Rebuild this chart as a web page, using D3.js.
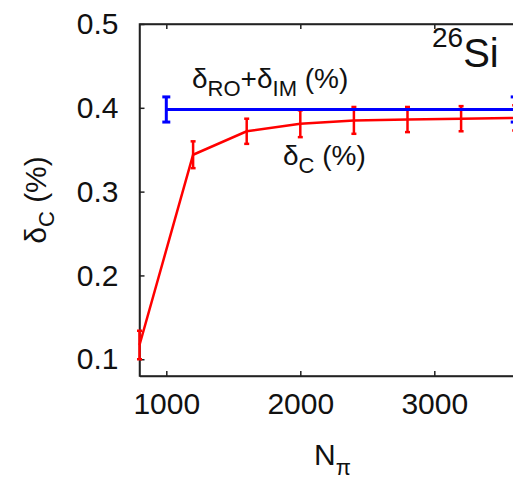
<!DOCTYPE html>
<html><head><meta charset="utf-8">
<script src="https://cdn.jsdelivr.net/npm/d3@7"></script>
<style>body{margin:0;background:#fff}svg{display:block}text{font-family:"Liberation Sans",Arial,sans-serif;fill:#111}</style>
</head><body>
<script>
const nPi = [800, 1200, 1600, 2000, 2400, 2800, 3200, 3600];
const deltaC = [0.117, 0.344, 0.372, 0.381, 0.385, 0.386, 0.387, 0.388];
const deltaCErr = [0.017, 0.016, 0.015, 0.016, 0.016, 0.015, 0.015, 0.015];
const roimX = [1000, 3600];
const roimY = [0.398, 0.398];
const roimErr = [0.015, 0.015];
const xTicks = [1000, 2000, 3000];
const yTicks = [0.1, 0.2, 0.3, 0.4, 0.5];

const W = 513, H = 482;
const svg = d3.select("body").append("svg").attr("width", W).attr("height", H);
const x = d3.scaleLinear().domain([800, 3600]).range([139.5, 514.7]);
const y = d3.scaleLinear().domain([0.08, 0.5]).range([376, 24]);

const axisColor = "#222";
const g = svg.append("g");
g.append("rect").attr("x", x(800)).attr("y", y(0.5)).attr("width", x(3600) - x(800)).attr("height", y(0.08) - y(0.5))
  .attr("fill", "none").attr("stroke", axisColor).attr("stroke-width", 1.5);

const xb = svg.append("g").attr("transform", `translate(0,${y(0.08)})`)
  .call(d3.axisBottom(x).tickValues(xTicks).tickSizeInner(-5).tickSizeOuter(0).tickPadding(17).tickFormat(d3.format("d")));
const xt = svg.append("g").attr("transform", `translate(0,${y(0.5)})`)
  .call(d3.axisTop(x).tickValues(xTicks).tickSizeInner(-5).tickSizeOuter(0).tickFormat(""));
const yl = svg.append("g").attr("transform", `translate(${x(800)},0)`)
  .call(d3.axisLeft(y).tickValues(yTicks).tickSizeInner(-5).tickSizeOuter(0).tickPadding(21).tickFormat(d3.format(".1f")));
[xb, xt, yl].forEach(a => {
  a.select(".domain").attr("stroke", axisColor).attr("stroke-width", 1.5);
  a.selectAll(".tick line").attr("stroke", axisColor).attr("stroke-width", 1.5);
  a.selectAll(".tick text").attr("font-size", 30).attr("font-family", "Liberation Sans, Arial, sans-serif").attr("fill", "#111");
});
xb.selectAll(".tick text").attr("dy", "0.71em");

svg.append("clipPath").attr("id", "c").append("rect").attr("x", 0).attr("y", 0).attr("width", W).attr("height", H);
const plot = svg.append("g").attr("clip-path", "url(#c)");

function series(xs, ys, es, color, lw, cap) {
  const pts = xs.map((d, i) => ({x: d, y: ys[i], e: es[i]}));
  plot.append("path").datum(pts).attr("fill", "none").attr("stroke", color).attr("stroke-width", lw)
    .attr("d", d3.line().x(d => x(d.x)).y(d => y(d.y)));
  const eb = plot.append("g").selectAll("g").data(pts).join("g");
  eb.append("line").attr("x1", d => x(d.x)).attr("x2", d => x(d.x)).attr("y1", d => y(d.y - d.e)).attr("y2", d => y(d.y + d.e))
    .attr("stroke", color).attr("stroke-width", lw);
  eb.append("line").attr("x1", d => x(d.x) - cap).attr("x2", d => x(d.x) + cap).attr("y1", d => y(d.y - d.e)).attr("y2", d => y(d.y - d.e))
    .attr("stroke", color).attr("stroke-width", lw);
  eb.append("line").attr("x1", d => x(d.x) - cap).attr("x2", d => x(d.x) + cap).attr("y1", d => y(d.y + d.e)).attr("y2", d => y(d.y + d.e))
    .attr("stroke", color).attr("stroke-width", lw);
}
series(nPi, deltaC, deltaCErr, "#ff0000", 2.5, 2.5);
series(roimX, roimY, roimErr, "#0000ff", 3, 4);

const t1 = svg.append("text").attr("x", 192).attr("y", 88).attr("font-size", 28);
t1.append("tspan").text("δ");
t1.append("tspan").attr("font-size", 22).attr("dy", 8).text("RO");
t1.append("tspan").attr("dy", -8).text("+δ");
t1.append("tspan").attr("font-size", 22).attr("dy", 8).text("IM");
t1.append("tspan").attr("dy", -8).text(" (%)");

const t2 = svg.append("text").attr("x", 283).attr("y", 165).attr("font-size", 28);
t2.append("tspan").text("δ");
t2.append("tspan").attr("font-size", 22).attr("dy", 8).text("C");
t2.append("tspan").attr("dy", -8).text(" (%)");

const t3 = svg.append("text").attr("x", 432).attr("y", 67).attr("font-size", 40);
t3.append("tspan").attr("font-size", 28).attr("dy", -20).text("26");
t3.append("tspan").attr("dy", 20).text("Si");

const t4 = svg.append("text").attr("transform", "translate(46,200) rotate(-90)").attr("text-anchor", "middle").attr("font-size", 30);
t4.append("tspan").text("δ");
t4.append("tspan").attr("font-size", 22).attr("dy", 8).text("C");
t4.append("tspan").attr("dy", -8).text(" (%)");

const t5 = svg.append("text").attr("x", 314).attr("y", 465).attr("font-size", 30);
t5.append("tspan").text("N");
t5.append("tspan").attr("font-size", 22).attr("dy", 10).text("π");
</script>
</body></html>
